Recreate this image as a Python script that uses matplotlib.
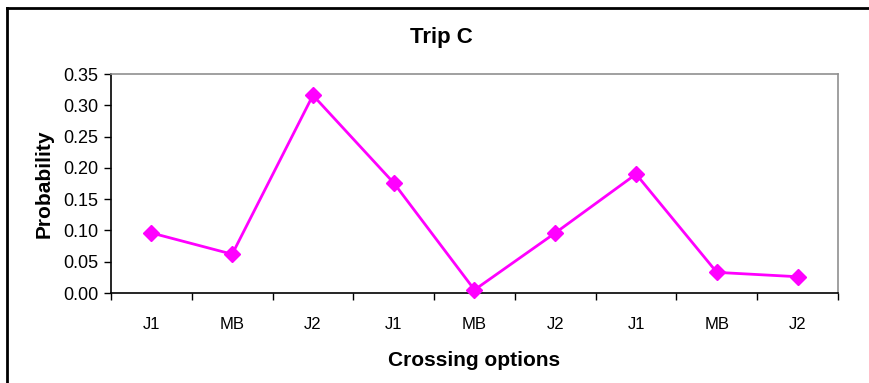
import numpy as np
from matplotlib import pyplot as plt
from matplotlib.lines import Line2D

plt.rcParams['font.family'] = ['Liberation Sans', 'DejaVu Sans']

# data
categories = ["J1", "MB", "J2", "J1", "MB", "J2", "J1", "MB", "J2"]
probability = [0.096, 0.062, 0.316, 0.176, 0.005, 0.096, 0.190, 0.033, 0.026]
yticks = [0.00, 0.05, 0.10, 0.15, 0.20, 0.25, 0.30, 0.35]

fig = plt.figure(figsize=(8.69, 3.83), dpi=100)
ax = fig.add_axes([111 / 869, 90 / 383, (838 - 111) / 869, (293 - 74) / 383])

x = np.arange(len(categories))
ax.plot(x, probability, color='#FF00FF', linewidth=2, marker='D',
        markersize=8, markeredgecolor='#FF00FF', markerfacecolor='#FF00FF',
        clip_on=False, zorder=3)

ax.set_xlim(-0.5, len(categories) - 0.5)
ax.set_ylim(0, 0.35)
ax.set_yticks(yticks)
ax.set_yticklabels(["%.2f" % v for v in yticks], fontsize=13)

# category ticks sit between the categories, labels in the middle
ax.set_xticks(np.arange(-0.5, len(categories), 1.0))
ax.set_xticklabels([])
ax.set_xticks(x, minor=True)
ax.set_xticklabels(categories, minor=True, fontsize=12)
ax.tick_params(axis='x', which='minor', length=0, pad=17)
ax.tick_params(axis='x', which='major', length=5, width=1, direction='out', color='black')
ax.tick_params(axis='y', length=5, width=1, direction='out', color='black', pad=4)

for s in ['top', 'right']:
    ax.spines[s].set_color('#909090')
    ax.spines[s].set_linewidth(1.2)
for s in ['left', 'bottom']:
    ax.spines[s].set_color('black')
    ax.spines[s].set_linewidth(1.2)

fig.text(441.5 / 869, 1 - 37 / 383, "Trip C", fontsize=16, fontweight='bold',
         ha='center', va='center')
ax.set_xlabel("Crossing options", fontsize=15, fontweight='bold', labelpad=14)
ax.set_ylabel("Probability", fontsize=15, fontweight='bold', labelpad=7)

# outer chart frame (cropped on right and bottom)
fig.add_artist(Line2D([7 / 869, 7 / 869], [0, 1 - 8 / 383], color='black', linewidth=2,
                      transform=fig.transFigure))
fig.add_artist(Line2D([7 / 869, 1], [1 - 8 / 383, 1 - 8 / 383], color='black', linewidth=2,
                      transform=fig.transFigure))

plt.savefig('out.png', dpi=100)
